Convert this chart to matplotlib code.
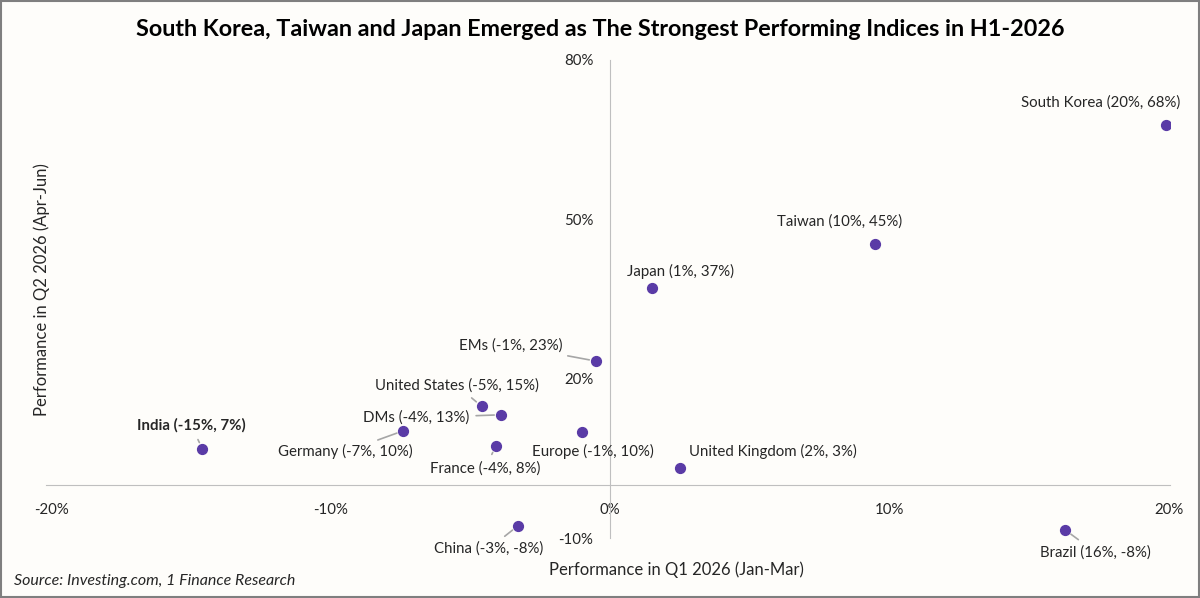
import matplotlib.pyplot as plt
from matplotlib.ticker import FuncFormatter

plt.rcParams['font.family'] = ['Lato', 'DejaVu Sans']

countries = ["South Korea", "Taiwan", "Japan", "EMs", "United States", "DMs",
             "Germany", "India", "France", "Europe", "United Kingdom", "China", "Brazil"]
q1_perf = [19.9, 9.5, 1.5, -0.5, -4.6, -3.9, -7.4, -14.6, -4.1, -1.0, 2.5, -3.3, 16.3]
q2_perf = [67.7, 45.3, 37.0, 23.3, 14.8, 13.2, 10.2, 6.8, 7.3, 10.0, 3.2, -7.7, -8.5]
labels = ["South Korea (20%, 68%)", "Taiwan (10%, 45%)", "Japan (1%, 37%)",
          "EMs (-1%, 23%)", "United States (-5%, 15%)", "DMs (-4%, 13%)",
          "Germany (-7%, 10%)", "India (-15%, 7%)", "France (-4%, 8%)",
          "Europe (-1%, 10%)", "United Kingdom (2%, 3%)", "China (-3%, -8%)",
          "Brazil (16%, -8%)"]

# label offsets in pixels, alignment, leader line
offsets = [(-65, 23), (-36, 23), (29, 17), (-34, 16), (-25, 21), (-32, -3),
           (-58, -21), (-11, 23), (-10, -22), (11, -20), (93, 16), (-29, -23), (30, -22)]
h_align = ["center", "center", "center", "right", "center", "right",
           "center", "center", "center", "center", "center", "center", "center"]
leaders = [False, False, False, True, True, True, True, True, True, False, False, True, True]

bg = "#fefdfa"
fig = plt.figure(figsize=(12, 5.98), facecolor=bg)
ax = fig.add_axes([0.0383, 0.1003, 0.9367, 0.7994], facecolor=bg)

ax.scatter(q1_perf, q2_perf, s=50, color="#5a3ba6", zorder=3)

for i in range(len(countries)):
    ap = None
    if leaders[i]:
        ap = dict(arrowstyle="-", color="#a6a6a6", lw=1.2, shrinkA=3, shrinkB=5)
    ax.annotate(labels[i], (q1_perf[i], q2_perf[i]), xytext=offsets[i],
                textcoords="offset pixels", ha=h_align[i], va="center",
                fontsize=10.8, color="#262626",
                fontweight="bold" if countries[i] == "India" else "normal",
                arrowprops=ap)

ax.set_xlim(-20.2, 20.05)
ax.set_ylim(-10, 80)
ax.set_xticks([-20, -10, 0, 10, 20])
ax.set_yticks([-10, 20, 50, 80])
ax.xaxis.set_major_formatter(FuncFormatter(lambda v, p: f"{v:.0f}%"))
ax.yaxis.set_major_formatter(FuncFormatter(lambda v, p: f"{v:.0f}%"))

for s in ["top", "right"]:
    ax.spines[s].set_visible(False)
ax.spines["left"].set_position(("data", 0))
ax.spines["bottom"].set_position(("data", 0))
ax.spines["left"].set_color("#bfbfbf")
ax.spines["bottom"].set_color("#bfbfbf")
ax.tick_params(length=0, labelsize=10.8, labelcolor="#262626")
ax.tick_params(axis="x", pad=13)
ax.tick_params(axis="y", pad=12)

fig.text(0.5, 0.95, "South Korea, Taiwan and Japan Emerged as The Strongest Performing Indices in H1-2026",
         ha="center", va="center", fontsize=16.8, fontweight="bold", color="black")
fig.text(0.564, 0.047, "Performance in Q1 2026 (Jan-Mar)", ha="center", va="center",
         fontsize=12, color="#262626")
fig.text(0.035, 0.515, "Performance in Q2 2026 (Apr-Jun)", ha="center", va="center",
         rotation=90, fontsize=12, color="#262626")
fig.text(0.012, 0.029, "Source: Investing.com, 1 Finance Research", ha="left", va="center",
         fontsize=11.5, style="italic", color="#262626")

fig.patches.append(plt.Rectangle((0.001, 0.002), 0.998, 0.996, transform=fig.transFigure,
                                 fill=False, edgecolor="#7f7f7f", lw=1.5))

fig.savefig("out.png", dpi=100, facecolor=bg)
